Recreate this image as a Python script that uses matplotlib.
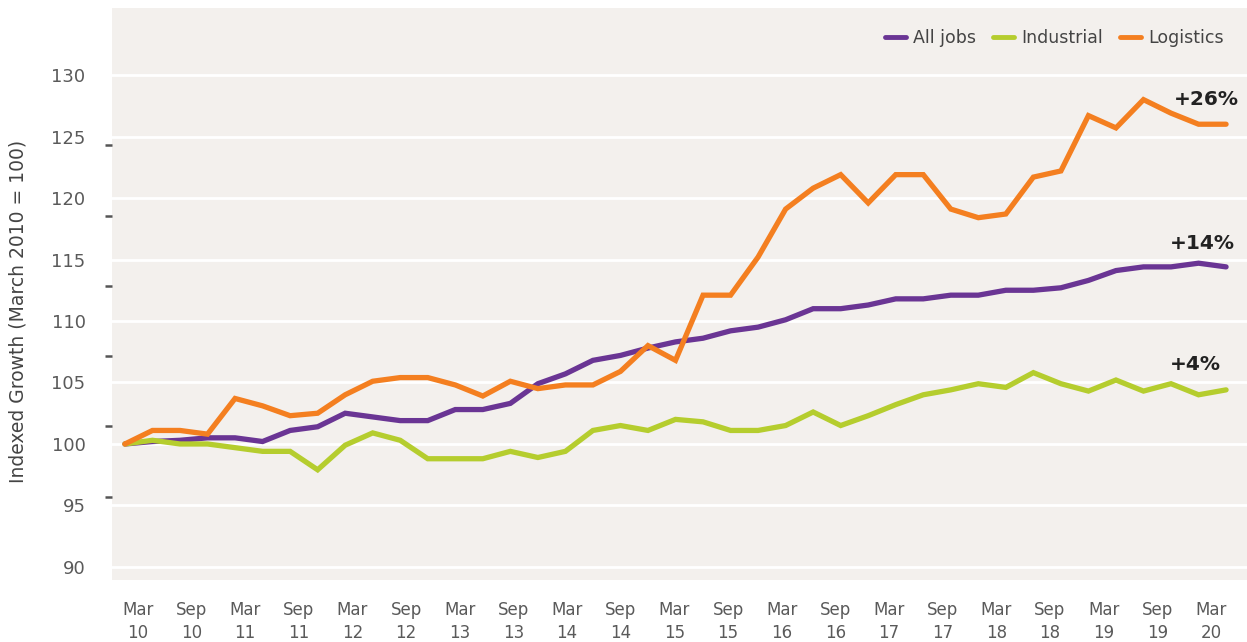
import numpy as np
import matplotlib
matplotlib.use("Agg")
import matplotlib.pyplot as plt

plt.rcParams["font.family"] = ["DejaVu Sans"]

# quarterly index, Mar 2010 .. Mar 2020 (41 quarters)
all_jobs = [100.0, 100.2, 100.3, 100.5, 100.5, 100.2, 101.1, 101.4, 102.5, 102.2,
            101.9, 101.9, 102.8, 102.8, 103.3, 104.9, 105.7, 106.8, 107.2, 107.8,
            108.3, 108.6, 109.2, 109.5, 110.1, 111.0, 111.0, 111.3, 111.8, 111.8,
            112.1, 112.1, 112.5, 112.5, 112.7, 113.3, 114.1, 114.4, 114.4, 114.7,
            114.4]
industrial = [100.0, 100.3, 100.0, 100.0, 99.7, 99.4, 99.4, 97.9, 99.9, 100.9,
              100.3, 98.8, 98.8, 98.8, 99.4, 98.9, 99.4, 101.1, 101.5, 101.1,
              102.0, 101.8, 101.1, 101.1, 101.5, 102.6, 101.5, 102.3, 103.2, 104.0,
              104.4, 104.9, 104.6, 105.8, 104.9, 104.3, 105.2, 104.3, 104.9, 104.0,
              104.4]
logistics = [100.0, 101.1, 101.1, 100.8, 103.7, 103.1, 102.3, 102.5, 104.0, 105.1,
             105.4, 105.4, 104.8, 103.9, 105.1, 104.5, 104.8, 104.8, 105.9, 108.0,
             106.8, 112.1, 112.1, 115.2, 119.1, 120.8, 121.9, 119.6, 121.9, 121.9,
             119.1, 118.4, 118.7, 121.7, 122.2, 126.7, 125.7, 128.0, 126.9, 126.0,
             126.0]
tick_labels = ["Mar\n10", "Sep\n10", "Mar\n11", "Sep\n11", "Mar\n12", "Sep\n12",
               "Mar\n13", "Sep\n13", "Mar\n14", "Sep\n14", "Mar\n15", "Sep\n15",
               "Mar\n16", "Sep\n16", "Mar\n17", "Sep\n17", "Mar\n18", "Sep\n18",
               "Mar\n19", "Sep\n19", "Mar\n20"]
growth_labels = ["+14%", "+4%", "+26%"]

PURPLE, GREEN, ORANGE = "#6a3594", "#b5cd2e", "#f47f20"
BG = "#f3f0ed"
GREY = "#5a5a5a"

fig = plt.figure(figsize=(12.47, 6.42), dpi=100)
ax = fig.add_axes([112 / 1247, 1 - 580 / 642, 1 - 112 / 1247, 572 / 642])
ax.set_facecolor(BG)

x = np.arange(len(all_jobs))
series = [(all_jobs, PURPLE, "All jobs"), (industrial, GREEN, "Industrial"),
          (logistics, ORANGE, "Logistics")]
for vals, col, name in series:
    ax.plot(x, vals, color=col, lw=3.8, solid_capstyle="round",
            solid_joinstyle="miter", label=name, zorder=3)

offsets = [(6, 17), (-4, 18), (9, 18)]
for (vals, col, name), lab, off in zip(series, growth_labels, offsets):
    ax.annotate(lab, xy=(x[-1], vals[-1]), xytext=off, textcoords="offset points",
                ha="right", va="center", fontsize=14.5, fontweight="bold", color="#222222")

ax.set_xlim(-0.47, 40.76)
ax.set_ylim(88.94, 135.45)

ax.set_yticks(np.arange(90, 131, 5))
ax.set_yticklabels([str(v) for v in range(90, 131, 5)])
ax.set_yticks(np.linspace(90, 130, 8), minor=True)
ax.tick_params(axis="y", which="major", length=0, pad=19, labelsize=13, labelcolor=GREY)
ax.tick_params(axis="y", which="minor", length=5, width=1.8, color="#555555", direction="out")
ax.grid(axis="y", color="white", lw=2, zorder=1)

label_pos = 0.47 + np.arange(len(tick_labels)) * 1.949
ax.set_xticks(label_pos)
ax.set_xticklabels(tick_labels, linespacing=1.4)
ax.tick_params(axis="x", length=0, pad=15, labelsize=12, labelcolor=GREY)

for s in ax.spines.values():
    s.set_visible(False)

ax.set_ylabel("Indexed Growth (March 2010 = 100)", fontsize=13.5, color="#444444")
ax.yaxis.set_label_coords(-84 / 1135, 0.47)

leg = ax.legend(loc="upper right", ncol=3, frameon=False, fontsize=12.5,
                handlelength=1.2, handletextpad=0.4, columnspacing=1.0,
                bbox_to_anchor=(0.993, 0.99), labelcolor="#444444")
for h in leg.get_lines():
    h.set_linewidth(3.5)

fig.savefig("out.png", dpi=100, facecolor="white")
